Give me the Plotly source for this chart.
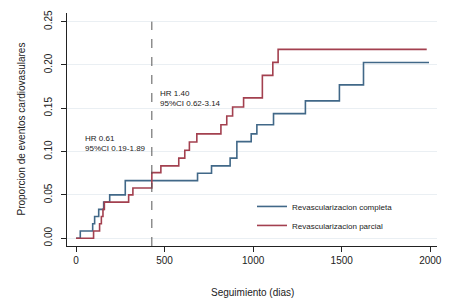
import plotly.graph_objects as go

# Data (Kaplan-Meier style cumulative event proportions)
completa_dias = [0, 24, 94, 105, 128, 156, 190, 278, 686, 765, 870, 908, 989, 1021, 1115, 1295, 1487, 1623, 1993]
completa_prop = [0, 0.0083, 0.0167, 0.025, 0.0333, 0.0417, 0.05, 0.0665, 0.075, 0.0835, 0.0925, 0.1115, 0.1205, 0.131, 0.1438, 0.1585, 0.177, 0.2028, 0.2028]

parcial_dias = [0, 99, 133, 143, 152, 160, 297, 321, 428, 479, 580, 614, 640, 682, 818, 851, 884, 946, 1052, 1111, 1141, 1980]
parcial_prop = [0, 0.0083, 0.0167, 0.025, 0.0333, 0.0417, 0.05, 0.058, 0.0757, 0.0835, 0.0925, 0.1015, 0.111, 0.1205, 0.131, 0.141, 0.1515, 0.162, 0.188, 0.203, 0.218, 0.218]

x_ticks = [0, 500, 1000, 1500, 2000]
y_ticks = [0.00, 0.05, 0.10, 0.15, 0.20, 0.25]
y_tick_labels = ["0.00", "0.05", "0.10", "0.15", "0.20", "0.25"]

corte_dias = 428
hr_text_1 = "HR 0.61<br>95%CI 0.19-1.89"
hr_text_2 = "HR 1.40<br>95%CI 0.62-3.14"
x_title = "Seguimiento (dias)"
y_title = "Proporcion de eventos cardiovasulares"

FONT = "Arial, Liberation Sans, sans-serif"
BLUE = "#416888"
RED = "#a3404f"

fig = go.Figure()
fig.add_trace(go.Scatter(x=completa_dias, y=completa_prop, mode="lines", line_shape="hv",
                         line=dict(color=BLUE, width=1.6), name="Revascularizacion completa"))
fig.add_trace(go.Scatter(x=parcial_dias, y=parcial_prop, mode="lines", line_shape="hv",
                         line=dict(color=RED, width=1.6), name="Revascularizacion parcial"))

fig.add_shape(type="line", x0=corte_dias, x1=corte_dias, y0=-0.009, y1=0.25, yref="y", xref="x",
              line=dict(color="#555555", width=1, dash="dash"))

fig.add_annotation(x=38, y=0.109, xref="x", yref="y", text=hr_text_1, showarrow=False,
                   xanchor="left", yanchor="middle", align="left",
                   font=dict(family=FONT, size=8, color="#222222"))
fig.add_annotation(x=460, y=0.161, xref="x", yref="y", text=hr_text_2, showarrow=False,
                   xanchor="left", yanchor="middle", align="left",
                   font=dict(family=FONT, size=8, color="#222222"))

# axis titles as paper annotations for exact placement
fig.add_annotation(x=0.5, y=-0.2, xref="paper", yref="paper", text=x_title, showarrow=False,
                   xanchor="center", yanchor="middle", font=dict(family=FONT, size=10, color="#222222"))
fig.add_annotation(x=-46 / 370, y=0.5, xref="paper", yref="paper", text=y_title, showarrow=False,
                   textangle=-90, xanchor="center", yanchor="middle",
                   font=dict(family=FONT, size=10, color="#222222"))

fig.update_layout(
    template="none",
    width=455, height=303,
    margin=dict(l=67, r=18, t=13, b=57, autoexpand=False),
    paper_bgcolor="white", plot_bgcolor="white",
    font=dict(family=FONT, size=10, color="#222222"),
    showlegend=True,
    legend=dict(x=0.50, y=0.232, xanchor="left", yanchor="top",
                bgcolor="rgba(0,0,0,0)", font=dict(family=FONT, size=8, color="#222222"),
                itemwidth=30, tracegroupgap=0),
    xaxis=dict(range=[-51, 2038], tickvals=x_ticks, showgrid=False, zeroline=False,
               showline=True, linecolor="#222222", linewidth=1, automargin=False,
               ticks="outside", ticklen=5, tickcolor="#222222",
               tickfont=dict(family=FONT, size=10)),
    yaxis=dict(range=[-0.009, 0.26], tickvals=y_ticks, ticktext=y_tick_labels, tickangle=-90,
               showgrid=True, gridcolor="#eaeff3", gridwidth=1, zeroline=False,
               showline=True, linecolor="#222222", linewidth=1, automargin=False,
               ticks="outside", ticklen=5, tickcolor="#222222", ticklabelstandoff=5,
               tickfont=dict(family=FONT, size=10)),
)

fig.write_html("out.html",
               config={"displayModeBar": False},
               post_script="document.body.style.margin='0';document.body.style.overflow='hidden';")
